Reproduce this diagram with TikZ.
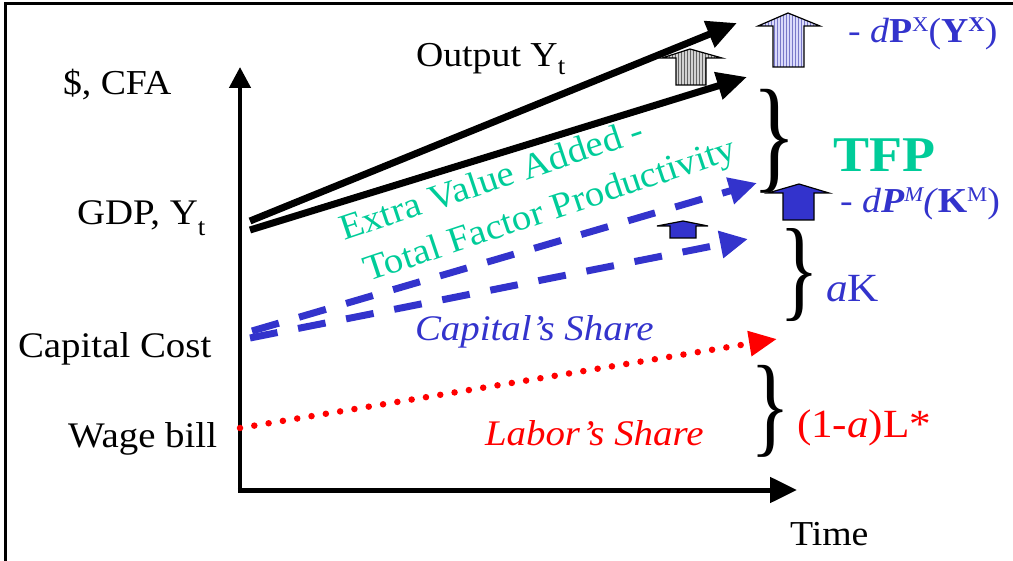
\documentclass[tikz,border=0pt]{standalone}
\usepackage{fontspec}
\setmainfont[FakeStretch=1.08]{Liberation Serif}
\usetikzlibrary{arrows.meta,patterns}
\definecolor{cblue}{RGB}{51,51,204}
\definecolor{cgreen}{RGB}{0,204,153}
\definecolor{cred}{RGB}{255,0,0}
\definecolor{lav}{RGB}{218,218,250}
\definecolor{lavline}{RGB}{120,120,200}
\definecolor{gfill}{RGB}{210,210,210}
\definecolor{gline}{RGB}{100,100,100}
\newcommand\myfs[1]{\fontsize{#1}{#1}\selectfont}
\begin{document}
\begin{tikzpicture}[x=1pt,y=-1pt,
  lbl/.style={anchor=base west, inner sep=0pt, outer sep=0pt},
  yaxis/.style={line width=4.5pt, -{Triangle[length=21pt,width=21pt]}},
  xaxis/.style={line width=5pt, -{Triangle[length=27pt,width=25pt]}},
  outline/.style={line width=7pt, -{Triangle[length=30pt,width=27pt]}},
  capline/.style={cblue, line width=7pt, dash pattern=on 28pt off 21pt, -{Triangle[length=28pt,width=26pt]}},
  labline/.style={cred, line width=6.5pt, line cap=round, dash pattern=on 0pt off 14.5pt, -{Triangle[length=28pt,width=24pt]}},
  uparr/.style={draw=black, line width=1.2pt, line join=miter},
  bracenode/.style={anchor=north west, inner sep=0pt, outer sep=0pt},
]
\useasboundingbox (0,0) rectangle (1013,561);
% frame
\draw[line width=3pt] (1013,4) -- (5,4) -- (5,561);

% axes
\coordinate (ybase) at (240,492);
\coordinate (xbase) at (237.75,490);
\coordinate (ytip) at (240,67);
\coordinate (xtip) at (797,490);
\draw[yaxis] (ybase) -- (ytip);
\draw[xaxis] (xbase) -- (xtip);

% output lines
\coordinate (o1s) at (250,221);
\coordinate (o1e) at (737,23);
\coordinate (o2s) at (250,230);
\coordinate (o2e) at (747,77);
\draw[outline] (o1s) -- (o1e);
\draw[outline] (o2s) -- (o2e);

% capital lines
\coordinate (c1s) at (252,331);
\coordinate (c1e) at (757,183);
\coordinate (c2s) at (250,338);
\coordinate (c2e) at (748,239);
\draw[capline] (c1s) -- (c1e);
\draw[capline] (c2s) -- (c2e);

% labour line
\coordinate (l1s) at (240,428);
\coordinate (l1e) at (777,339);
\draw[labline] (l1s) -- (l1e);

% up arrows
\path[uparr, preaction={fill=lav}, pattern=vertical lines, pattern color=lavline]
  (788,13) -- (820,26) -- (804,26) -- (804,67) -- (773,67) -- (773,26) -- (758,26) -- cycle;
\path[uparr, preaction={fill=gfill}, pattern=vertical lines, pattern color=gline]
  (690,49) -- (722,58) -- (706,58) -- (706,85) -- (676,85) -- (676,58) -- (662,58) -- cycle;
\path[uparr, fill=cblue]
  (799,184) -- (829,193) -- (814,193) -- (814,220) -- (783,220) -- (783,193) -- (768,193) -- cycle;
\path[uparr, fill=cblue]
  (683,221) -- (708,226) -- (696,226) -- (696,238) -- (670,238) -- (670,226) -- (657,226) -- cycle;

% braces
\node[bracenode] (br1) at (752,89) {\resizebox*{44pt}{104pt}{\}}};
\node[bracenode] (br2) at (779,229) {\resizebox*{40pt}{93pt}{\}}};
\node[bracenode] (br3) at (750,365) {\resizebox*{40pt}{92pt}{\}}};

% axis labels
\node[lbl] (cfa) at (63,95) {\myfs{35}\$, CFA};
\node[lbl] (outp) at (416,67) {\myfs{35}Output Y\raisebox{-8pt}{\myfs{25}t}};
\node[lbl] (gdp) at (77,225) {\myfs{36}GDP, Y\raisebox{-11pt}{\myfs{25}t}};
\node[lbl] (capc) at (18,358) {\myfs{36}Capital Cost};
\node[lbl] (wage) at (68,448) {\myfs{36}Wage bill};
\node[lbl] (time) at (790,545) {\myfs{35}Time};

% green rotated text
\node[lbl, rotate=18.5, text=cgreen] (ev1) at (344,241) {\myfs{36}Extra Value Added -};
\node[lbl, rotate=18.5, text=cgreen] (ev2) at (368,282) {\myfs{36}Total Factor Productivity};

% shares
\node[lbl, text=cblue] (cs) at (415,341) {\myfs{36}\itshape Capital’s Share};
\node[lbl, text=cred] (ls) at (485,446) {\myfs{36}\itshape Labor’s Share};

% right labels
\node[lbl, text=cgreen] (tfp) at (833,172) {\myfs{50}\bfseries TFP};
\node[lbl, text=cblue] (dpx) at (848,43) {\myfs{35}- \textit{d}\textbf{P}\raisebox{11pt}{\myfs{21}X}(\textbf{Y}\raisebox{11pt}{\myfs{21}\bfseries X})};
\node[lbl, text=cblue] (dpm) at (840,213) {\myfs{35}- \textit{d}\textbf{\textit{P}}\raisebox{11pt}{\myfs{21}\itshape M}\textit{(}\textbf{K}\raisebox{11pt}{\myfs{21}M})};
\node[lbl, text=cblue] (ak) at (826,302) {\myfs{40}\textit{a}K};
\node[lbl, text=cred] (lstar) at (797,438) {\myfs{40}(1-\textit{a})L*};
\end{tikzpicture}
\end{document}
